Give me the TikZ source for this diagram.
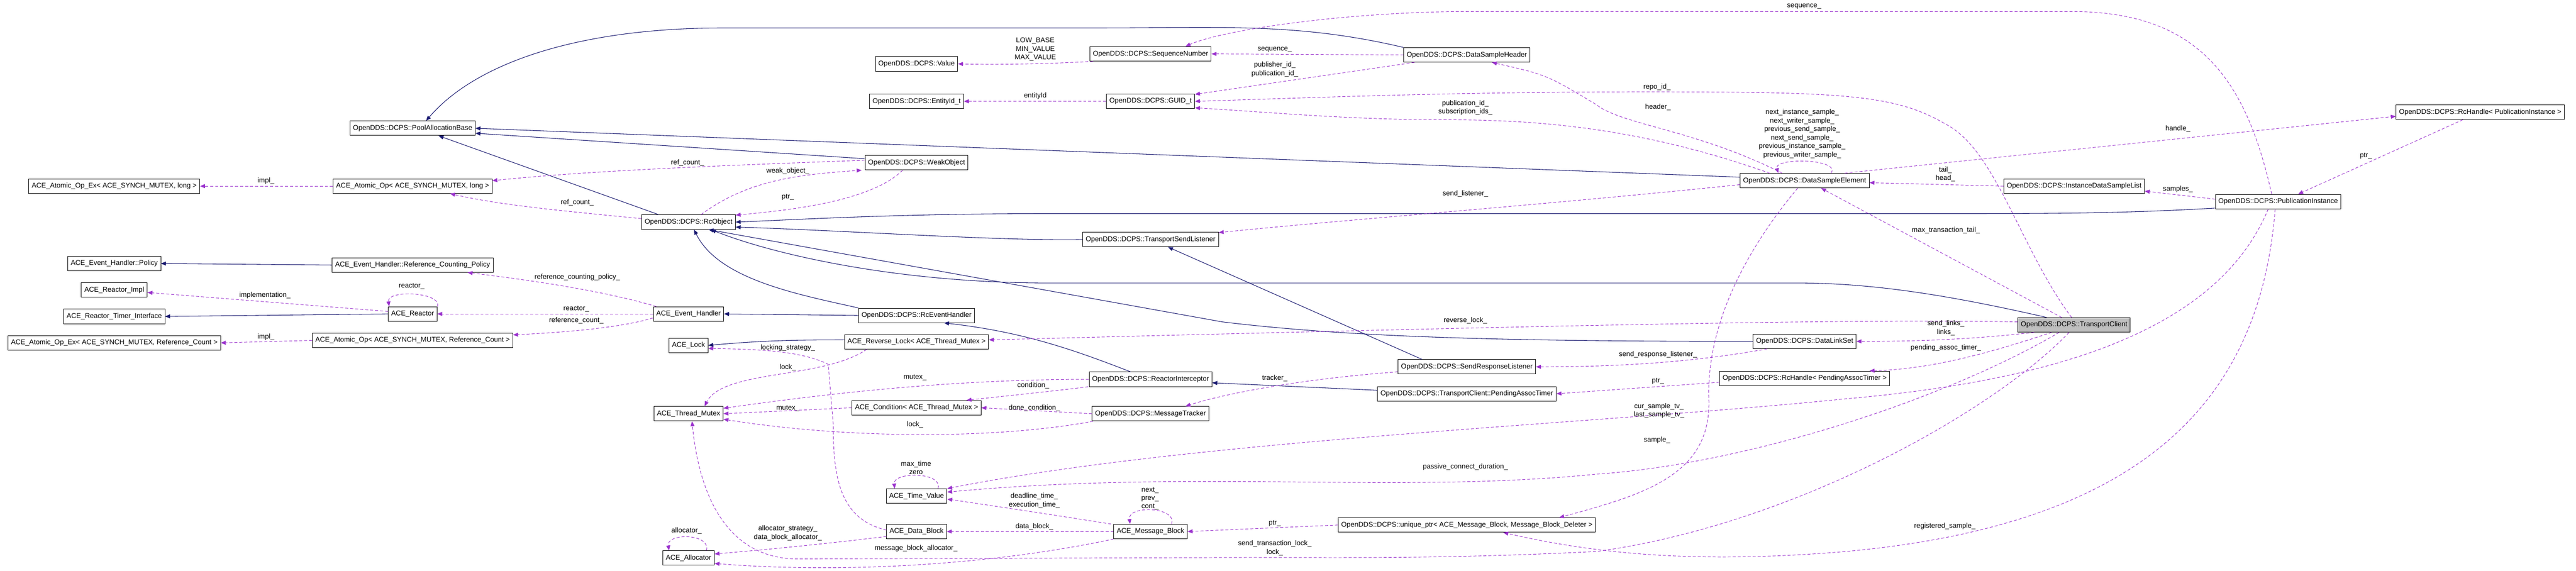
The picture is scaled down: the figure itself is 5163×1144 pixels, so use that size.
\documentclass[tikz,border=0pt]{standalone}
\usepackage{fontspec}
\setmainfont{Liberation Sans}
\usepackage{tikz}
\usetikzlibrary{arrows.meta,calc,positioning}
\definecolor{navy}{HTML}{191970}
\definecolor{orchid}{HTML}{9A32CD}
\tikzset{
    >={Triangle[length=10pt,width=8pt]},
    cls/.style={
           rectangle,
           draw=black, line width=1pt,
           fill=white,
           minimum height=29pt,
           inner xsep=6pt,
           font=\fontsize{14}{17}\selectfont},
    focus/.style={
           cls,
           fill=black!25},
    inh/.style={
           ->,
           draw=navy, line width=1.1pt},
    mem/.style={
           ->,
           draw=orchid, line width=1pt,
           dash pattern=on 6pt off 4pt},
    lbl/.style={
           inner sep=0pt,
           align=center,
           font=\fontsize{14}{17}\selectfont}
}

\begin{document}
\begin{tikzpicture}[x=1pt,y=-1pt]
          \useasboundingbox (0,0) rectangle (5163,1144);
          \node[cls](pool) at (827,257) {OpenDDS::DCPS::PoolAllocationBase};
          \node[cls](aoxl) at (229,373) {ACE\_Atomic\_Op\_Ex< ACE\_SYNCH\_MUTEX, long >};
          \node[cls](aol) at (827,373) {ACE\_Atomic\_Op< ACE\_SYNCH\_MUTEX, long >};
          \node[cls](ehpol) at (229,528) {ACE\_Event\_Handler::Policy};
          \node[cls](ehrcp) at (827,531) {ACE\_Event\_Handler::Reference\_Counting\_Policy};
          \node[cls](rimpl) at (229,581) {ACE\_Reactor\_Impl};
          \node[cls](rti) at (229,634) {ACE\_Reactor\_Timer\_Interface};
          \node[cls](reactor) at (827,629) {ACE\_Reactor};
          \node[cls](aoxrc) at (229,687) {ACE\_Atomic\_Op\_Ex< ACE\_SYNCH\_MUTEX, Reference\_Count >};
          \node[cls](aorc) at (827,682) {ACE\_Atomic\_Op< ACE\_SYNCH\_MUTEX, Reference\_Count >};
          \node[cls](value) at (1837,128) {OpenDDS::DCPS::Value};
          \node[cls](seqnum) at (2306,108) {OpenDDS::DCPS::SequenceNumber};
          \node[cls](entity) at (1837,203) {OpenDDS::DCPS::EntityId\_t};
          \node[cls](guid) at (2306,203) {OpenDDS::DCPS::GUID\_t};
          \node[cls](weak) at (1837,326) {OpenDDS::DCPS::WeakObject};
          \node[cls](rcobj) at (1380,445) {OpenDDS::DCPS::RcObject};
          \node[cls](tsl) at (2306,480) {OpenDDS::DCPS::TransportSendListener};
          \node[cls](evh) at (1380,629) {ACE\_Event\_Handler};
          \node[cls](rceh) at (1837,632) {OpenDDS::DCPS::RcEventHandler};
          \node[cls](lock) at (1380,692) {ACE\_Lock};
          \node[cls](revlock) at (1837,685) {ACE\_Reverse\_Lock< ACE\_Thread\_Mutex >};
          \node[cls](rint) at (2306,760) {OpenDDS::DCPS::ReactorInterceptor};
          \node[cls](tmutex) at (1380,829) {ACE\_Thread\_Mutex};
          \node[cls](cond) at (1837,817) {ACE\_Condition< ACE\_Thread\_Mutex >};
          \node[cls](mtrack) at (2306,829) {OpenDDS::DCPS::MessageTracker};
          \node[cls](timev) at (1837,994) {ACE\_Time\_Value};
          \node[cls](dblock) at (1837,1065) {ACE\_Data\_Block};
          \node[cls](mblock) at (2306,1065) {ACE\_Message\_Block};
          \node[cls](alloc) at (1380,1118) {ACE\_Allocator};
          \node[cls](dsh) at (2940,110) {OpenDDS::DCPS::DataSampleHeader};
          \node[cls](dse) at (3617,362) {OpenDDS::DCPS::DataSampleElement};
          \node[cls](dls) at (3617,684) {OpenDDS::DCPS::DataLinkSet};
          \node[cls](srl) at (2940,735) {OpenDDS::DCPS::SendResponseListener};
          \node[cls](rhpat) at (3617,758) {OpenDDS::DCPS::RcHandle< PendingAssocTimer >};
          \node[cls](pat) at (2940,789) {OpenDDS::DCPS::TransportClient::PendingAssocTimer};
          \node[cls](uptr) at (2940,1052) {OpenDDS::DCPS::unique\_ptr< ACE\_Message\_Block, Message\_Block\_Deleter >};
          \node[cls](rhpi) at (4971,225) {OpenDDS::DCPS::RcHandle< PublicationInstance >};
          \node[cls](idsl) at (4157,373) {OpenDDS::DCPS::InstanceDataSampleList};
          \node[cls](pubi) at (4566,404) {OpenDDS::DCPS::PublicationInstance};
          \node[focus](tc) at (4157,651) {OpenDDS::DCPS::TransportClient};
          \draw[inh] (dsh.north west) .. controls (2600,45) and (2450,56) .. (2200,56) -- (1450,56) .. controls (1150,56) and (950,130) .. ([xshift=27pt]pool.north);
          \draw[inh] ([yshift=7pt]dse.west) -- (pool.east);
          \draw[inh] ([yshift=8pt]weak.west) -- ([yshift=-10pt]pool.east);
          \draw[inh] ([xshift=-60pt]rcobj.north) -- ([xshift=52pt]pool.south);
          \draw[inh] (ehrcp.west) -- (ehpol.east);
          \draw[inh] (reactor.west) -- (rti.east);
          \draw[inh] (rceh.west) -- (evh.east);
          \draw[inh] ([yshift=4pt]revlock.west) to[out=180,in=5] (lock.east);
          \draw[inh] (rceh.north west) .. controls (1600,590) and (1440,560) .. ([xshift=11pt]rcobj.south);
          \draw[inh] (tsl.west) .. controls (2000,483) and (1700,462) .. ([yshift=-10pt]rcobj.east);
          \draw[inh] ([xshift=-40pt]rint.north) .. controls (2150,700) and (2050,665) .. ([xshift=55pt]rceh.south);
          \draw[inh] ([xshift=-90pt]srl.north) -- ([xshift=35pt]tsl.south);
          \draw[inh] ([yshift=7pt]pat.west) -- ([yshift=-7pt]rint.east);
          \draw[inh] (dls.west) .. controls (3000,684) and (2700,675) .. (2450,645) -- ([xshift=40pt]rcobj.south);
          \draw[inh] ([xshift=-55pt]tc.north) .. controls (3900,590) and (3750,567) .. (3600,567) -- (2100,567) .. controls (1800,567) and (1550,510) .. ([xshift=45pt]rcobj.south);
          \draw[inh] ([yshift=-13pt]pubi.west) .. controls (4250,428) and (4100,428) .. (3900,428) -- (2100,428) .. controls (1800,428) and (1600,440) .. (rcobj.east);
          \draw[mem] (aol.west) -- (aoxl.east) node[lbl] at (533,362) {impl\_};
          \draw[mem] ([yshift=7pt]rcobj.west) .. controls (1100,420) and (1000,410) .. ([xshift=75pt]aol.south) node[lbl] at (1157,406) {ref\_count\_};
          \draw[mem] ([yshift=5pt]weak.west) .. controls (1500,330) and (1200,340) .. ([yshift=11pt]aol.east) node[lbl] at (1378,326) {ref\_count\_};
          \draw[mem] ([xshift=-65pt]evh.north) .. controls (1200,580) and (1050,560) .. ([xshift=110pt]ehrcp.south) node[lbl] at (1157,556) {reference\_counting\_policy\_};
          \draw[mem] ([yshift=5pt]reactor.west) -- ([yshift=-5pt]rimpl.east) node[lbl] at (531,592) {implementation\_};
          \draw[mem] ([xshift=50pt]reactor.north) .. controls (885,585) and (775,580) .. ([xshift=-47pt]reactor.north) node[lbl] at (825,574) {reactor\_};
          \draw[mem] (evh.west) -- (reactor.east) node[lbl] at (1155,619) {reactor\_};
          \draw[mem] ([yshift=-8pt]evh.west) .. controls (1250,655) and (1150,665) .. ([yshift=11pt]aorc.east) node[lbl] at (1155,642) {reference\_count\_};
          \draw[mem] (aorc.west) -- (aoxrc.east) node[lbl] at (533,675) {impl\_};
          \draw[mem] ([xshift=-115pt]seqnum.south) .. controls (2100,128) and (2000,130) .. (value.east) node[lbl] at (2075,99) {LOW\_BASE\\MIN\_VALUE\\MAX\_VALUE};
          \draw[mem] (dsh.west) -- (seqnum.east) node[lbl] at (2555,99) {sequence\_};
          \draw[mem] ([xshift=-105pt]dsh.south) -- ([yshift=14pt]guid.east) node[lbl] at (2555,139) {publisher\_id\_\\publication\_id\_};
          \draw[mem] (guid.west) -- (entity.east) node[lbl] at (2075,192) {entityId};
          \draw[mem] ([xshift=-5pt]tc.north) .. controls (4050,500) and (4000,300) .. (3900,249) .. controls (3800,190) and (3700,184) .. (3300,184) .. controls (2900,184) and (2600,197) .. (guid.east) node[lbl] at (3321,174) {repo\_id\_};
          \draw[mem] ([xshift=-70pt]dse.north) .. controls (3300,260) and (3100,240) .. (2900,240) .. controls (2700,240) and (2550,225) .. ([yshift=-13pt]guid.east) node[lbl] at (2937,216) {publication\_id\_\\subscription\_ids\_};
          \draw[mem] ([xshift=-13pt]pubi.north) .. controls (4500,150) and (4400,23) .. (4150,23) -- (2950,23) .. controls (2700,23) and (2450,60) .. ([xshift=70pt]seqnum.north) node[lbl] at (3616,13) {sequence\_};
          \draw[mem] ([xshift=80pt]dse.north) -- ([yshift=-8pt]rhpi.west) node[lbl] at (4365,258) {handle\_};
          \draw[mem] ([xshift=-35pt]rhpi.south) -- ([xshift=40pt]pubi.north) node[lbl] at (4742,312) {ptr\_};
          \draw[mem] ([yshift=5pt]pubi.west) -- ([yshift=-10pt]idsl.east) node[lbl] at (4365,379) {samples\_};
          \draw[mem] (idsl.west) -- ([yshift=-4pt]dse.east) node[lbl] at (3899,349) {tail\_\\head\_};
          \draw[mem] ([xshift=53pt]dse.north) .. controls (3690,318) and (3555,315) .. ([xshift=-53pt]dse.north) node[lbl] at (3612,268) {next\_instance\_sample\_\\next\_writer\_sample\_\\previous\_send\_sample\_\\next\_send\_sample\_\\previous\_instance\_sample\_\\previous\_writer\_sample\_};
          \draw[mem] ([xshift=-45pt]dse.north) .. controls (3400,260) and (3250,250) .. (3200,210) .. controls (3100,150) .. ([xshift=50pt]dsh.south) node[lbl] at (3323,215) {header\_};
          \draw[mem] ([yshift=-8pt]dse.west) .. controls (3100,410) and (2700,440) .. ([yshift=14pt]tsl.east) node[lbl] at (2937,388) {send\_listener\_};
          \draw[mem] ([xshift=-14pt]dse.south) .. controls (3500,500) and (3420,650) .. (3425,800) .. controls (3430,950) and (3300,990) .. ([xshift=185pt]uptr.north) node[lbl] at (3321,882) {sample\_};
          \draw[mem] ([xshift=-25pt]tc.north) -- ([xshift=33pt]dse.south) node[lbl] at (3900,462) {max\_transaction\_tail\_};
          \draw[mem] ([yshift=6pt]tc.west) .. controls (3700,638) and (3000,655) .. ([yshift=4pt]revlock.east) node[lbl] at (2937,642) {reverse\_lock\_};
          \draw[mem] ([xshift=-80pt]tc.south) .. controls (3950,680) and (3850,684) .. (dls.east) node[lbl] at (3900,657) {send\_links\_\\links\_};
          \draw[mem] ([xshift=-45pt]tc.south) .. controls (3950,720) and (3850,740) .. ([xshift=130pt]rhpat.north) node[lbl] at (3900,697) {pending\_assoc\_timer\_};
          \draw[mem] ([yshift=-8pt]rhpat.west) -- (pat.east) node[lbl] at (3323,764) {ptr\_};
          \draw[mem] ([xshift=-75pt]dls.south) .. controls (3400,725) and (3250,735) .. (srl.east) node[lbl] at (3323,710) {send\_response\_listener\_};
          \draw[mem] ([yshift=-10pt]srl.west) .. controls (2600,760) and (2450,790) .. ([xshift=70pt]mtrack.north) node[lbl] at (2555,758) {tracker\_};
          \draw[mem] (rint.west) .. controls (1900,760) and (1650,790) .. ([yshift=11pt]tmutex.east) node[lbl] at (1834,756) {mutex\_};
          \draw[mem] ([xshift=-125pt]rint.south) .. controls (2100,785) and (2000,795) .. ([xshift=100pt]cond.north) node[lbl] at (2071,772) {condition\_};
          \draw[mem] (cond.west) -- (tmutex.east) node[lbl] at (1579,818) {mutex\_};
          \draw[mem] (mtrack.west) -- (cond.east) node[lbl] at (2073,818) {done\_condition\_};
          \draw[mem] ([xshift=-115pt]mtrack.south) .. controls (2000,880) and (1700,880) .. ([yshift=-11pt]tmutex.east) node[lbl] at (1834,851) {lock\_};
          \draw[mem] ([xshift=-100pt]revlock.south) .. controls (1650,760) and (1450,740) .. ([xshift=32pt]tmutex.north) node[lbl] at (1579,736) {lock\_};
          \draw[mem] ([yshift=3pt]dblock.west) .. controls (1680,1040) and (1670,950) .. (1670,850) -- (1660,730) .. controls (1600,700) and (1500,700) .. ([yshift=-6pt]lock.east) node[lbl] at (1579,697) {locking\_strategy\_};
          \draw[mem] ([xshift=43pt]timev.north) .. controls (1890,945) and (1790,945) .. ([xshift=-44pt]timev.north) node[lbl] at (1836,937) {max\_time\\zero};
          \draw[mem] ([xshift=-79pt]mblock.north) .. controls (2100,1030) and (2000,1015) .. ([yshift=-6pt]timev.east) node[lbl] at (2073,1003) {deadline\_time\_\\execution\_time\_};
          \draw[mem] (mblock.west) -- (dblock.east) node[lbl] at (2073,1055) {data\_block\_};
          \draw[mem] ([xshift=42pt]mblock.north) .. controls (2360,1015) and (2260,1012) .. ([xshift=-41pt]mblock.north) node[lbl] at (2305,999) {next\_\\prev\_\\cont\_};
          \draw[mem] ([yshift=-10pt]dblock.west) .. controls (1650,1090) and (1550,1100) .. ([yshift=8pt]alloc.east) node[lbl] at (1579,1068) {allocator\_strategy\_\\data\_block\_allocator\_};
          \draw[mem] ([xshift=36pt]alloc.north) .. controls (1425,1068) and (1335,1068) .. ([xshift=-39pt]alloc.north) node[lbl] at (1376,1064) {allocator\_};
          \draw[mem] (mblock.south west) .. controls (2000,1130) and (1700,1150) .. ([yshift=-11pt]alloc.east) node[lbl] at (1836,1099) {message\_block\_allocator\_};
          \draw[mem] (uptr.west) -- (mblock.east) node[lbl] at (2555,1049) {ptr\_};
          \draw[mem] ([xshift=-10pt]tc.south) .. controls (4000,820) and (3600,1050) .. (3200,1105) .. controls (2900,1120) and (2700,1117) .. (2500,1117) -- (1600,1120) .. controls (1450,1120) and (1400,980) .. ([xshift=7pt]tmutex.south) node[lbl] at (2555,1098) {send\_transaction\_lock\_\\lock\_};
          \draw[mem] ([xshift=-30pt]tc.south) .. controls (3900,800) and (3500,930) .. (3200,950) .. controls (2800,990) and (2400,940) .. ([yshift=8pt]timev.east) node[lbl] at (2937,936) {passive\_connect\_duration\_};
          \draw[mem] ([xshift=-20pt]pubi.south) .. controls (4450,650) and (4150,760) .. (3700,799) .. controls (3200,850) and (2400,880) .. (timev.north east) node[lbl] at (3325,823) {cur\_sample\_tv\_\\last\_sample\_tv\_};
          \draw[mem] ([xshift=-6pt]pubi.south) .. controls (4530,800) and (4300,1050) .. (3700,1105) .. controls (3400,1130) and (3200,1110) .. ([xshift=73pt]uptr.south) node[lbl] at (3898,1054) {registered\_sample\_};
          \draw[mem] ([xshift=25pt]rcobj.north) .. controls (1500,360) and (1600,350) .. ([xshift=-110pt]weak.south) node[lbl] at (1579,343) {weak\_object\_};
          \draw[mem] ([xshift=-28pt]weak.south) .. controls (1750,400) and (1600,420) .. ([yshift=14pt]rcobj.east) node[lbl] at (1579,395) {ptr\_};
         \end{tikzpicture}
\end{document}
